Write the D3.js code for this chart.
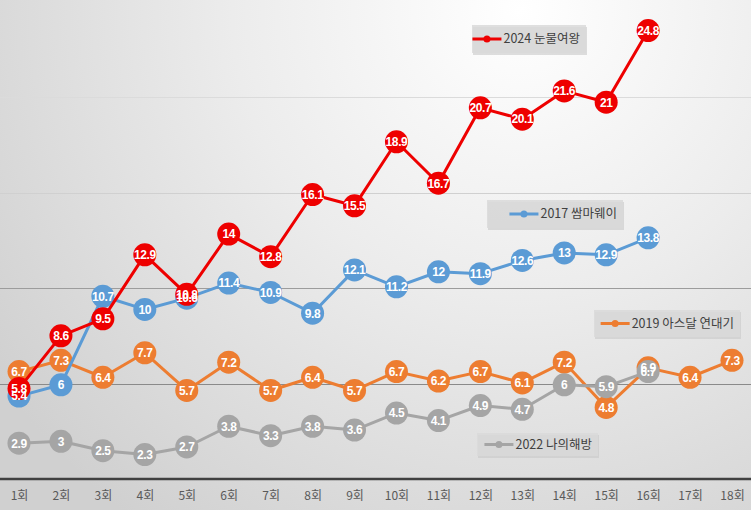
<!DOCTYPE html>
<html><head><meta charset="utf-8">
<script src="https://cdn.jsdelivr.net/npm/d3@7"></script>
<style>html,body{margin:0;padding:0;background:#fff;}svg{display:block;}</style>
</head><body>
<script>
const categories = ["1회","2회","3회","4회","5회","6회","7회","8회","9회","10회","11회","12회","13회","14회","15회","16회","17회","18회"];
const red2024 = [5.8, 8.6, 9.5, 12.9, 10.8, 14, 12.8, 16.1, 15.5, 18.9, 16.7, 20.7, 20.1, 21.6, 21, 24.8];
const blue2017 = [5.4, 6, 10.7, 10, 10.6, 11.4, 10.9, 9.8, 12.1, 11.2, 12, 11.9, 12.6, 13, 12.9, 13.8];
const orange2019 = [6.7, 7.3, 6.4, 7.7, 5.7, 7.2, 5.7, 6.4, 5.7, 6.7, 6.2, 6.7, 6.1, 7.2, 4.8, 6.9, 6.4, 7.3];
const gray2022 = [2.9, 3, 2.5, 2.3, 2.7, 3.8, 3.3, 3.8, 3.6, 4.5, 4.1, 4.9, 4.7, 6, 5.9, 6.7];
const seriesNames = ["2019 아스달 연대기", "2022 나의해방", "2017 쌈마웨이", "2024 눈물여왕"];
const yGrid = [6.05, 11.15, 16.2, 21.25];

const W = 751, H = 510;
const svg = d3.select("body").append("svg").attr("width", W).attr("height", H);
const defs = svg.append("defs");
const grad = defs.append("radialGradient").attr("id","bg").attr("gradientUnits","userSpaceOnUse")
  .attr("cx", 520).attr("cy", 10).attr("r", 640);
grad.append("stop").attr("offset","0%").attr("stop-color","#ffffff");
grad.append("stop").attr("offset","45%").attr("stop-color","#ececec");
grad.append("stop").attr("offset","100%").attr("stop-color","#d0d0d0");
svg.append("rect").attr("width",W).attr("height",H).attr("fill","url(#bg)");

const x = d3.scalePoint().domain(categories).range([19, 732]);
const y = d3.scaleLinear().domain([1, 26]).range([479, 8]);

// gridlines
const gridColor = d3.scaleLinear().domain([6, 11, 16, 21]).range(["#8a8a8a", "#9a9a9a", "#d0d0d0", "#dadada"]);
svg.append("g").selectAll("line").data(yGrid).join("line")
  .attr("x1", 0).attr("x2", W).attr("y1", d => Math.round(y(d)) + 0.5).attr("y2", d => Math.round(y(d)) + 0.5)
  .attr("stroke", d => gridColor(d)).attr("stroke-width", 1);

// x axis
const xAxis = svg.append("g").attr("transform", `translate(0,${y(1)})`)
  .call(d3.axisBottom(x).tickSize(0).tickPadding(12));
xAxis.select(".domain").remove();
svg.append("line").attr("x1",0).attr("x2",W).attr("y1",y(1)).attr("y2",y(1)).attr("stroke","#404040").attr("stroke-width",2.5);
xAxis.selectAll("text").attr("fill","#595959").attr("font-size","12px")
  .attr("font-family","'Noto Sans CJK KR', sans-serif");

const series = [
  {name: seriesNames[0], values: orange2019, color: "#ed7d31"},
  {name: seriesNames[1], values: gray2022, color: "#a5a5a5"},
  {name: seriesNames[2], values: blue2017, color: "#5b9bd5"},
  {name: seriesNames[3], values: red2024, color: "#ee0000"}
];

const line = d3.line().x((d,i) => x(categories[i])).y(d => y(d));
const marks = svg.append("g");
const labels = svg.append("g");
series.forEach(s => {
  const g = marks.append("g");
  g.append("path").datum(s.values).attr("d", line).attr("fill","none")
    .attr("stroke", s.color).attr("stroke-width", 3).attr("stroke-linejoin","round");
  g.selectAll("circle").data(s.values).join("circle")
    .attr("cx", (d,i) => x(categories[i])).attr("cy", d => y(d))
    .attr("r", 11.5).attr("fill", s.color);
});
series.forEach(s => {
  labels.append("g").selectAll("text").data(s.values).join("text")
    .attr("x", (d,i) => x(categories[i])).attr("y", d => y(d))
    .text(d => d).attr("text-anchor","middle").attr("dy","0.36em")
    .attr("fill","#ffffff").attr("font-weight","bold").attr("font-size","12px")
    .attr("letter-spacing","-0.4px")
    .attr("font-family","'Liberation Sans Narrow', 'Liberation Sans', Arial, sans-serif");
});

// legends
const legends = [
  {s: series[3], x: 472, y: 25, w: 114, h: 28},
  {s: series[2], x: 487, y: 200, w: 136, h: 28},
  {s: series[0], x: 594, y: 310, w: 146, h: 27},
  {s: series[1], x: 477, y: 433, w: 121, h: 23}
];
legends.forEach(L => {
  const g = svg.append("g").attr("transform", `translate(${L.x},${L.y})`);
  g.append("rect").attr("x",1).attr("y",2).attr("width",L.w).attr("height",L.h).attr("fill","#c8c8c8").attr("opacity",0.6);
  g.append("rect").attr("width",L.w).attr("height",L.h).attr("fill","#d9d9d9").attr("opacity",0.85);
  const t = g.append("text").text(L.s.name).attr("y", L.h/2).attr("dy","0.35em")
    .attr("fill","#404040").attr("font-size","12.5px")
    .attr("font-family","'Noto Sans CJK KR', sans-serif");
  const tw = t.node().getComputedTextLength();
  const tx = L.w - 6 - tw;
  t.attr("x", tx);
  g.append("line").attr("x1", tx - 31).attr("x2", tx - 2).attr("y1", L.h/2).attr("y2", L.h/2)
    .attr("stroke", L.s.color).attr("stroke-width", 3);
  g.append("circle").attr("cx", tx - 16.5).attr("cy", L.h/2).attr("r", 3.5).attr("fill", L.s.color);
});
</script>
</body></html>
